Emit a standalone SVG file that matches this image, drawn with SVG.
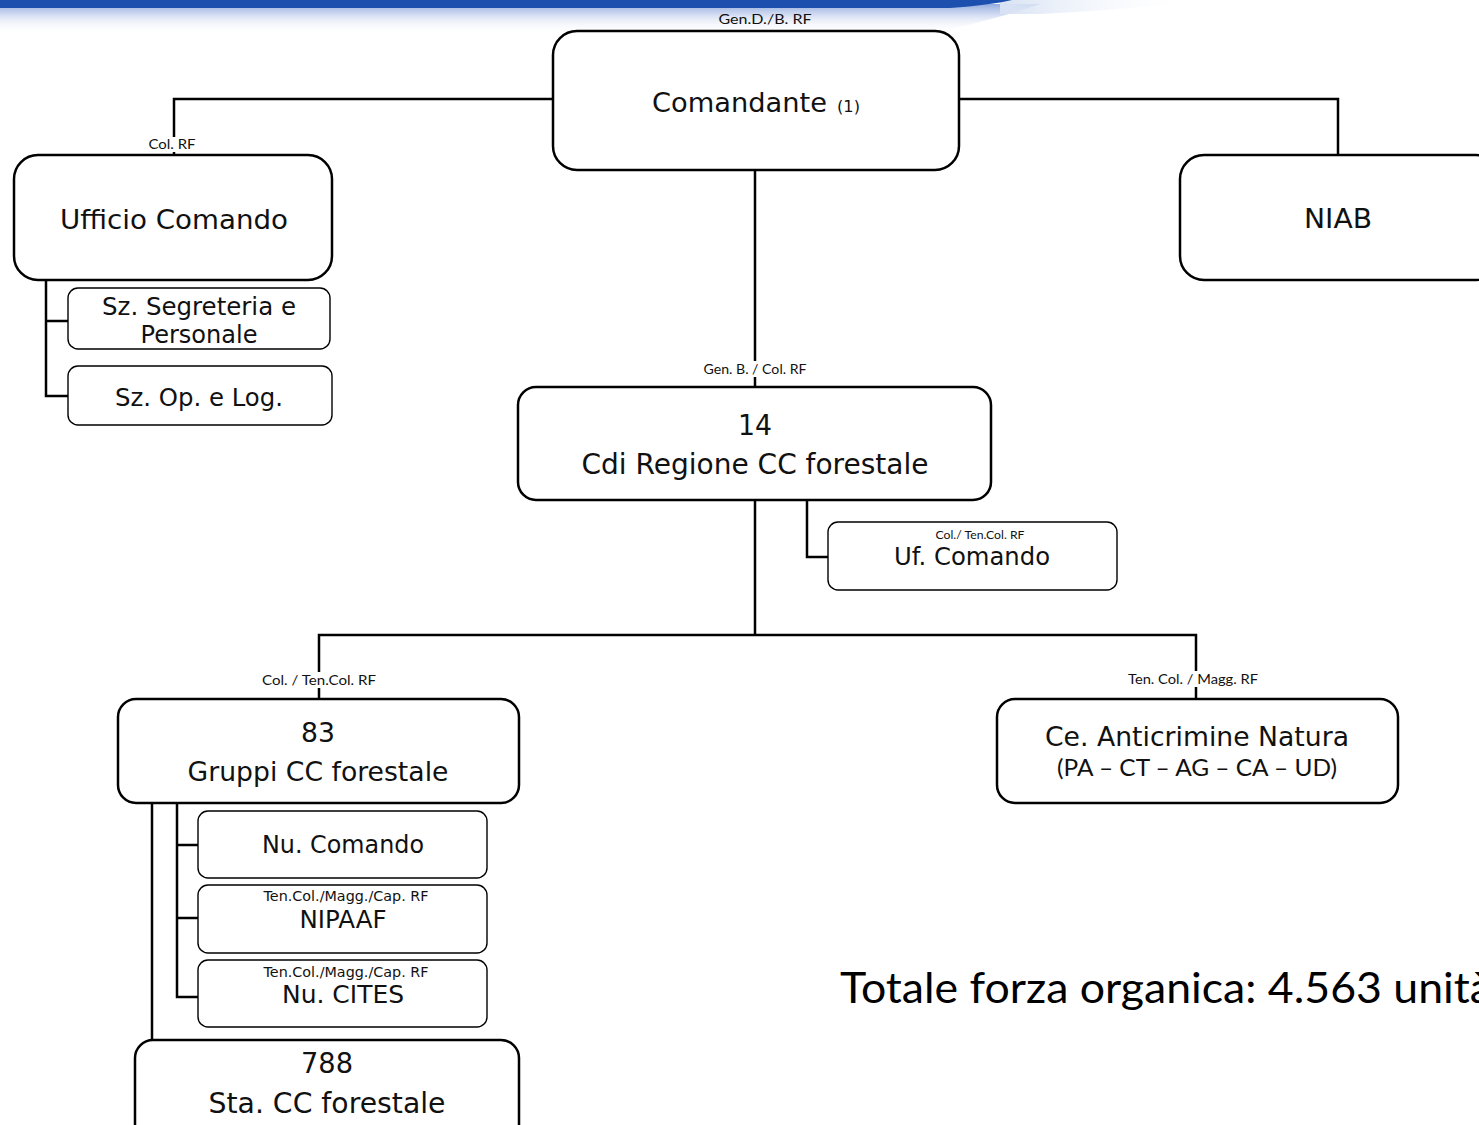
<svg xmlns="http://www.w3.org/2000/svg" width="1479" height="1125" viewBox="0 0 1479 1125">
<defs>
<linearGradient id="bandFade" x1="0" y1="0" x2="0" y2="1">
<stop offset="0" stop-color="#7f9cd8" stop-opacity="0.85"/>
<stop offset="0.5" stop-color="#d5def2" stop-opacity="0.6"/>
<stop offset="1" stop-color="#ffffff" stop-opacity="0"/>
</linearGradient>
<linearGradient id="bandRight" x1="0" y1="0" x2="1" y2="0">
<stop offset="0" stop-color="#d8e2f4"/>
<stop offset="1" stop-color="#ffffff" stop-opacity="0"/>
</linearGradient>
<style>
.box{fill:#fff;stroke:#000;stroke-width:2.5}
.sub{fill:#fff;stroke:#000;stroke-width:1.4}
.conn{fill:none;stroke:#000;stroke-width:2.5}
.t{font-family:"DejaVu Sans",Verdana,sans-serif;fill:#111;text-anchor:middle}
.lbl{font-family:Lato,"Open Sans",sans-serif;fill:#111;text-anchor:middle}
.bg{fill:#fff}
</style>
</defs>
<rect width="1479" height="1125" fill="#fff"/>
<g id="banner">
<path d="M0 4 H1040 Q1000 18 930 34 H0 Z" fill="url(#bandFade)"/>
<path d="M1000 0 H1200 Q1150 8 1040 14 H1000 Z" fill="url(#bandRight)"/>
<path d="M0 0 H1012 Q990 5 950 8 H0 Z" fill="#1d4fae"/>
</g>
<g id="connectors">
<path class="conn" d="M553 99 H174 V155"/>
<path class="conn" d="M959 99 H1338 V155"/>
<path class="conn" d="M755 170 V387"/>
<path class="conn" d="M46 280 V396 H68 M46 321 H68"/>
<path class="conn" d="M807 500 V557 H828"/>
<path class="conn" d="M755 500 V635 M319 699 V635 H1196 V699"/>
<path class="conn" d="M177 803 V997 H198 M177 845 H198 M177 918 H198"/>
<path class="conn" d="M152 803 V1040"/>
</g>
<g id="node-comandante">
<text class="lbl" x="765" y="24" font-size="14" textLength="93" lengthAdjust="spacingAndGlyphs">Gen.D./B. RF</text>
<rect class="box" x="553" y="31" width="406" height="139" rx="24"/>
<text class="t" x="739.5" y="112" font-size="27" textLength="175" lengthAdjust="spacingAndGlyphs">Comandante</text>
<text class="t" x="848.5" y="112" font-size="16" textLength="23" lengthAdjust="spacingAndGlyphs">(1)</text>
</g>
<g id="node-ufficio-comando">
<rect class="bg" x="145" y="137" width="56" height="15"/>
<text class="lbl" x="172" y="149" font-size="14" textLength="47" lengthAdjust="spacingAndGlyphs">Col. RF</text>
<rect class="box" x="14" y="155" width="318" height="125" rx="24"/>
<text class="t" x="174" y="229" font-size="27" textLength="228" lengthAdjust="spacingAndGlyphs">Ufficio Comando</text>
</g>
<g id="node-sz-segreteria">
<rect class="sub" x="68" y="288" width="262" height="61" rx="10"/>
<text class="t" x="199" y="315" font-size="24" textLength="194" lengthAdjust="spacingAndGlyphs">Sz. Segreteria e</text>
<text class="t" x="199" y="343" font-size="24" textLength="117" lengthAdjust="spacingAndGlyphs">Personale</text>
</g>
<g id="node-sz-op">
<rect class="sub" x="68" y="366" width="264" height="59" rx="10"/>
<text class="t" x="199" y="406" font-size="24" textLength="168" lengthAdjust="spacingAndGlyphs">Sz. Op. e Log.</text>
</g>
<g id="node-niab">
<rect class="box" x="1180" y="155" width="320" height="125" rx="24"/>
<text class="t" x="1338" y="228" font-size="27" textLength="68" lengthAdjust="spacingAndGlyphs">NIAB</text>
</g>
<g id="node-cdi-regione">
<rect class="bg" x="700" y="361" width="110" height="16"/>
<text class="lbl" x="755" y="374" font-size="14" textLength="103" lengthAdjust="spacingAndGlyphs">Gen. B. / Col. RF</text>
<rect class="box" x="518" y="387" width="473" height="113" rx="18"/>
<text class="t" x="755" y="435" font-size="28" textLength="34" lengthAdjust="spacingAndGlyphs">14</text>
<text class="t" x="755" y="474" font-size="28" textLength="347" lengthAdjust="spacingAndGlyphs">Cdi Regione CC forestale</text>
</g>
<g id="node-uf-comando">
<rect class="sub" x="828" y="522" width="289" height="68" rx="10"/>
<text class="lbl" x="980" y="539" font-size="11" textLength="89" lengthAdjust="spacingAndGlyphs">Col./ Ten.Col. RF</text>
<text class="t" x="972" y="565" font-size="24" textLength="156" lengthAdjust="spacingAndGlyphs">Uf. Comando</text>
</g>
<g id="node-gruppi">
<rect class="bg" x="258" y="672" width="122" height="16"/>
<text class="lbl" x="319" y="685" font-size="14" textLength="114" lengthAdjust="spacingAndGlyphs">Col. / Ten.Col.  RF</text>
<rect class="box" x="118" y="699" width="401" height="104" rx="18"/>
<text class="t" x="318" y="742" font-size="27" textLength="34" lengthAdjust="spacingAndGlyphs">83</text>
<text class="t" x="318" y="781" font-size="27" textLength="261" lengthAdjust="spacingAndGlyphs">Gruppi CC forestale</text>
</g>
<g id="node-anticrimine">
<rect class="bg" x="1124" y="671" width="138" height="16"/>
<text class="lbl" x="1193" y="684" font-size="14" textLength="130" lengthAdjust="spacingAndGlyphs">Ten. Col. / Magg. RF</text>
<rect class="box" x="997" y="699" width="401" height="104" rx="18"/>
<text class="t" x="1197" y="746" font-size="27" textLength="304" lengthAdjust="spacingAndGlyphs">Ce. Anticrimine Natura</text>
<text class="lbl" x="1197" y="776" font-size="24" textLength="280" lengthAdjust="spacingAndGlyphs">(PA – CT – AG – CA – UD)</text>
</g>
<g id="node-nu-comando">
<rect class="sub" x="198" y="811" width="289" height="67" rx="10"/>
<text class="t" x="343" y="853" font-size="24" textLength="162" lengthAdjust="spacingAndGlyphs">Nu. Comando</text>
</g>
<g id="node-nipaaf">
<rect class="sub" x="198" y="885" width="289" height="68" rx="10"/>
<text class="t" x="346" y="901" font-size="14" textLength="165" lengthAdjust="spacingAndGlyphs">Ten.Col./Magg./Cap. RF</text>
<text class="t" x="343" y="928" font-size="24" textLength="87" lengthAdjust="spacingAndGlyphs">NIPAAF</text>
</g>
<g id="node-nu-cites">
<rect class="sub" x="198" y="960" width="289" height="67" rx="10"/>
<text class="t" x="346" y="977" font-size="14" textLength="165" lengthAdjust="spacingAndGlyphs">Ten.Col./Magg./Cap. RF</text>
<text class="t" x="343" y="1003" font-size="24" textLength="122" lengthAdjust="spacingAndGlyphs">Nu. CITES</text>
</g>
<g id="node-stazioni">
<rect class="box" x="135" y="1040" width="384" height="110" rx="18"/>
<text class="t" x="327" y="1073" font-size="28" textLength="52" lengthAdjust="spacingAndGlyphs">788</text>
<text class="t" x="327" y="1113" font-size="28" textLength="237" lengthAdjust="spacingAndGlyphs">Sta. CC forestale</text>
</g>
<g id="totale">
<text x="840" y="1003" font-family="Lato,'Open Sans',sans-serif" font-size="42" fill="#000" textLength="652" lengthAdjust="spacingAndGlyphs">Totale forza organica: 4.563 unità</text>
</g>
</svg>
